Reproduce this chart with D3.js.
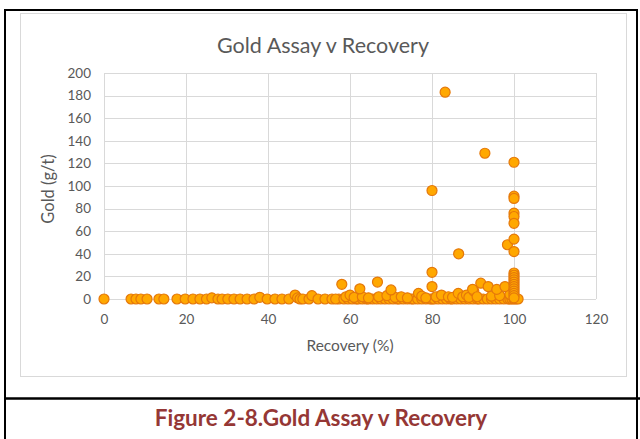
<!DOCTYPE html>
<html><head><meta charset="utf-8">
<script src="https://cdn.jsdelivr.net/npm/d3@7"></script>
<style>body{margin:0;background:#fff}svg{display:block}</style>
</head><body>
<script>
const title = "Gold Assay v Recovery";
const xLabel = "Recovery (%)";
const yLabel = "Gold (g/t)";
const caption = "Figure 2-8.Gold Assay v Recovery";
const xTicks = [0, 20, 40, 60, 80, 100, 120];
const yTicks = [0, 20, 40, 60, 80, 100, 120, 140, 160, 180, 200];

// Recovery (%) values
const recovery = [
  0, 6.6, 7.8, 9, 10.5, 13.4, 14.6, 17.8, 19.8, 21.7, 23.4, 25, 26.3, 27.8, 28.8, 30.2, 31.7, 33.2, 34.9, 36.6,
  38, 39.8, 41.7, 43.4, 45.1, 46.6, 47.2, 47.8, 48.5, 50, 50.7, 52.2, 53.9, 55.6, 57.3, 56.5, 58.5, 59.5, 60.5, 61.5,
  62, 63, 64, 64.5, 65.5, 66.5, 67.5, 68.5, 69.5, 70.5, 71.5, 72, 73, 74, 75, 75.5, 76.5, 77.5, 78.5, 79.5,
  80, 80.5, 81.5, 82.5, 83.5, 84.5, 85, 86, 87, 88, 89, 90, 91, 91.5, 92.5, 93.5, 94.5, 95.5, 96.5, 97.5,
  98.5, 99, 99.5, 100, 100.5, 101,
  59, 60, 61, 63, 64.5, 67, 69, 71, 72.5, 74, 76.7, 77.5, 78.5, 81, 82.3, 84, 85, 86.4, 87.5, 88.4, 89, 90.2, 89.9, 91, 94.5, 96.5, 99,
  58, 62.4, 66.7, 70, 80, 80, 80, 83.2, 86.5, 91.9, 92.9, 93.7, 95.8, 97.8, 98.4,
  100, 100, 100, 100, 100, 100, 100, 100, 100, 100, 100, 100, 100, 100, 100, 100, 100, 100, 100, 100
];
// Gold (g/t) values
const gold = [
  0, 0, 0, 0, 0, 0, 0, 0, 0, 0, 0, 0, 1, 0, 0, 0, 0, 0, 0, 0,
  1.5, 0, 0, 0, 0, 3.5, 1, 0, 0, 0, 3, 0, 0, 0, 0, 0, 0, 0, 0, 0,
  0, 0, 0, 0, 0, 0, 0, 0, 0, 0, 0, 0, 0, 0, 0, 0, 0, 0, 0, 0,
  0, 0, 0, 0, 0, 0, 0, 0, 0, 0, 0, 0, 0, 0, 0, 0, 0, 0, 0, 0,
  0, 0, 0, 0, 0, 0,
  2, 3.5, 1.5, 2, 1, 2, 3, 1.5, 2, 1, 5, 2.5, 1, 2, 3.5, 2, 1.5, 5, 2, 3.5, 1.5, 7, 8.6, 2, 2.5, 3, 4,
  13, 9, 15, 8, 23.6, 11, 96, 183, 40, 14, 129, 11, 8.5, 11, 48,
  121, 91, 89, 76, 73, 67, 53, 42, 23, 21, 19, 17, 15, 13, 11, 9, 7, 5, 3, 1
];

const W = 640, H = 439;
const svg = d3.select("body").append("svg").attr("width", W).attr("height", H);
const font = "Lato, 'Open Sans', sans-serif";
const gray = "#595959";

// outer frame
svg.append("rect").attr("x", 5).attr("y", 10).attr("width", 632).attr("height", 440)
  .attr("fill", "none").attr("stroke", "#000").attr("stroke-width", 2);
svg.append("line").attr("x1", 5).attr("x2", 640).attr("y1", 398.5).attr("y2", 398.5)
  .attr("stroke", "#000").attr("stroke-width", 2.5);
// chart area border
svg.append("rect").attr("x", 20.5).attr("y", 13.5).attr("width", 606).attr("height", 363)
  .attr("fill", "#fff").attr("stroke", "#d9d9d9").attr("stroke-width", 1);

const x = d3.scaleLinear().domain([0, 120]).range([104, 596]);
const y = d3.scaleLinear().domain([0, 200]).range([299, 73]);

// gridlines
svg.append("g").selectAll("line").data(yTicks).join("line")
  .attr("x1", x(0)).attr("x2", x(120)).attr("y1", d => Math.round(y(d)) + 0.5).attr("y2", d => Math.round(y(d)) + 0.5)
  .attr("stroke", "#d9d9d9").attr("stroke-width", 1);
svg.append("g").selectAll("line").data(xTicks).join("line")
  .attr("y1", y(0)).attr("y2", y(200)).attr("x1", d => Math.round(x(d)) + 0.5).attr("x2", d => Math.round(x(d)) + 0.5)
  .attr("stroke", "#d9d9d9").attr("stroke-width", 1);

// axes (labels only)
const xAxis = svg.append("g").attr("transform", `translate(0,${y(0)})`)
  .call(d3.axisBottom(x).tickValues(xTicks).tickSize(0).tickPadding(15));
xAxis.select(".domain").remove();
xAxis.selectAll("text").attr("font-family", font).attr("font-size", 13.5).attr("fill", gray);
const yAxis = svg.append("g").attr("transform", `translate(${x(0)},0)`)
  .call(d3.axisLeft(y).tickValues(yTicks).tickSize(0).tickPadding(13));
yAxis.select(".domain").remove();
yAxis.selectAll("text").attr("font-family", font).attr("font-size", 13.5).attr("fill", gray);

// points
const pts = recovery.map((r, i) => [r, gold[i]]);
svg.append("g").selectAll("circle").data(pts).join("circle")
  .attr("cx", d => x(d[0])).attr("cy", d => y(d[1])).attr("r", 5)
  .attr("fill", "#FFA800").attr("stroke", "#E5780A").attr("stroke-width", 1.2);

// titles
svg.append("text").attr("x", 323).attr("y", 53).attr("text-anchor", "middle")
  .attr("font-family", font).attr("font-size", 21.5).attr("fill", gray).text(title);
svg.append("text").attr("x", 350).attr("y", 351).attr("text-anchor", "middle")
  .attr("font-family", font).attr("font-size", 15.5).attr("fill", gray).text(xLabel);
svg.append("text").attr("transform", "translate(54,189) rotate(-90)").attr("text-anchor", "middle")
  .attr("font-family", font).attr("font-size", 16.5).attr("fill", gray).text(yLabel);
svg.append("text").attr("x", 321).attr("y", 426).attr("text-anchor", "middle")
  .attr("font-family", font).attr("font-weight", "bold").attr("font-size", 22.5).attr("fill", "#953735").text(caption);
</script>
</body></html>
